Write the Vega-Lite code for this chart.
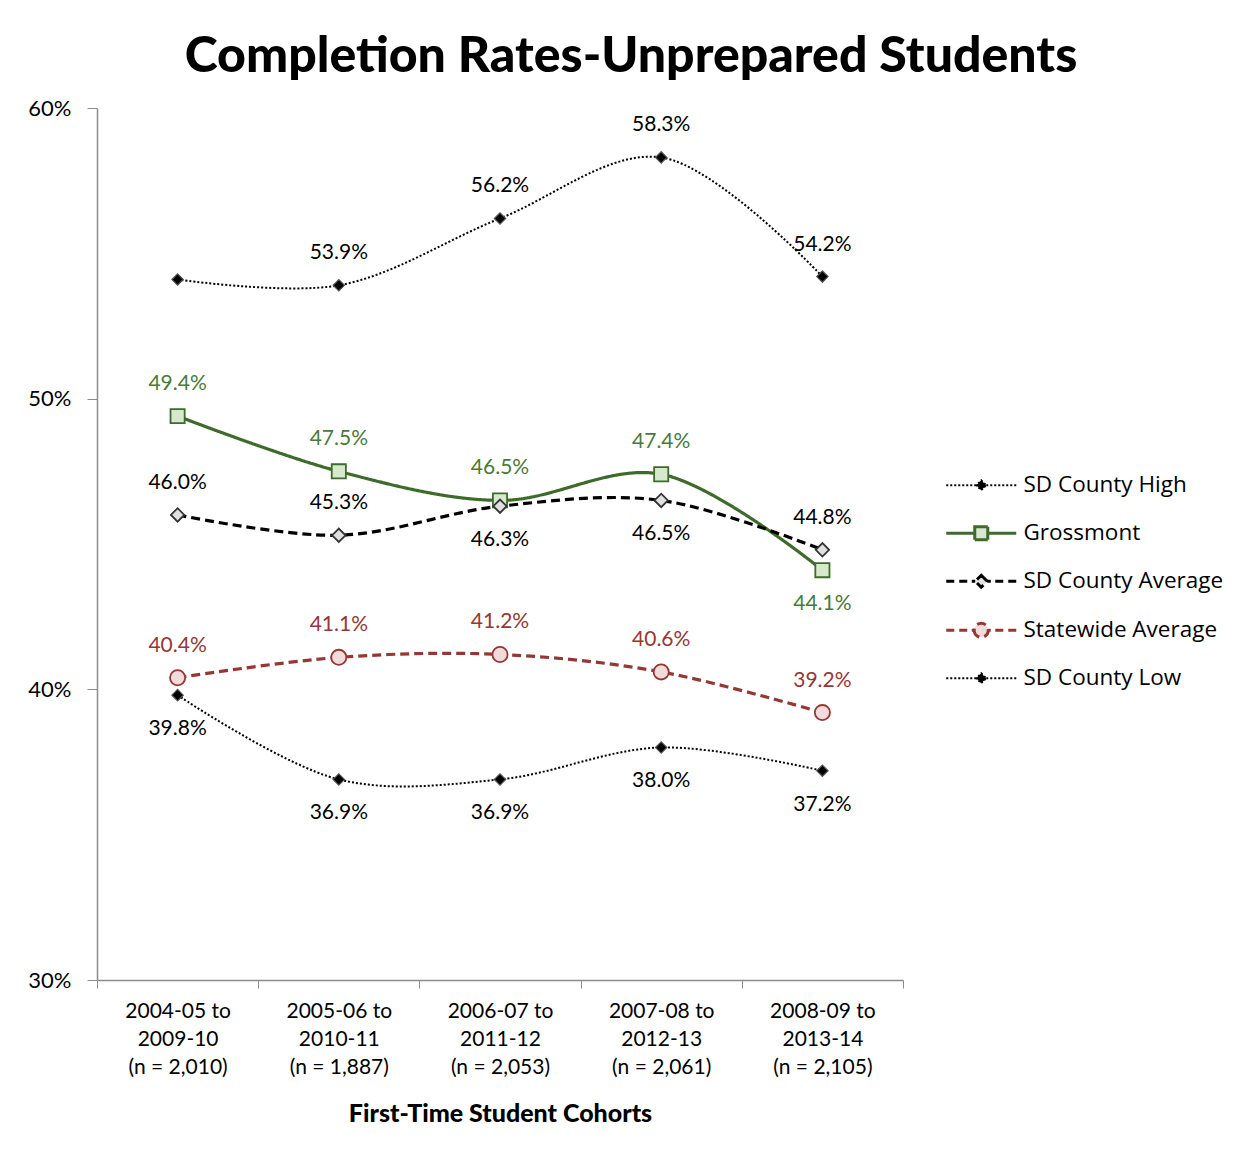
{
  "$schema": "https://vega.github.io/schema/vega-lite/v6.json",
  "autosize": {"type": "none"},
  "padding": {"left": 97, "top": 108, "right": 349, "bottom": 169},
  "width": 806,
  "height": 872,
  "background": "white",
  "config": {
    "font": "Lato",
    "view": {"stroke": null},
    "axis": {"labelFont": "Lato", "titleFont": "Lato", "domainColor": "#8c8c8c", "tickColor": "#8c8c8c", "labelColor": "#000000", "grid": false}
  },
  "title": {
    "text": "Completion Rates-Unprepared Students",
    "font": "Lato",
    "fontSize": 50,
    "fontWeight": 900,
    "color": "#000000",
    "anchor": "middle",
    "frame": "group",
    "baseline": "alphabetic",
    "offset": -25,
    "dx": 131
  },
  "data": {
    "values": [
      {"series": "SD County High", "cohort": "2004-05 to|2009-10|(n = 2,010)", "value": 0.541},
      {"series": "SD County High", "cohort": "2005-06 to|2010-11|(n = 1,887)", "value": 0.539},
      {"series": "SD County High", "cohort": "2006-07 to|2011-12|(n = 2,053)", "value": 0.562},
      {"series": "SD County High", "cohort": "2007-08 to|2012-13|(n = 2,061)", "value": 0.583},
      {"series": "SD County High", "cohort": "2008-09 to|2013-14|(n = 2,105)", "value": 0.542},
      {"series": "Grossmont", "cohort": "2004-05 to|2009-10|(n = 2,010)", "value": 0.494},
      {"series": "Grossmont", "cohort": "2005-06 to|2010-11|(n = 1,887)", "value": 0.475},
      {"series": "Grossmont", "cohort": "2006-07 to|2011-12|(n = 2,053)", "value": 0.465},
      {"series": "Grossmont", "cohort": "2007-08 to|2012-13|(n = 2,061)", "value": 0.474},
      {"series": "Grossmont", "cohort": "2008-09 to|2013-14|(n = 2,105)", "value": 0.441},
      {"series": "SD County Average", "cohort": "2004-05 to|2009-10|(n = 2,010)", "value": 0.460},
      {"series": "SD County Average", "cohort": "2005-06 to|2010-11|(n = 1,887)", "value": 0.453},
      {"series": "SD County Average", "cohort": "2006-07 to|2011-12|(n = 2,053)", "value": 0.463},
      {"series": "SD County Average", "cohort": "2007-08 to|2012-13|(n = 2,061)", "value": 0.465},
      {"series": "SD County Average", "cohort": "2008-09 to|2013-14|(n = 2,105)", "value": 0.448},
      {"series": "Statewide Average", "cohort": "2004-05 to|2009-10|(n = 2,010)", "value": 0.404},
      {"series": "Statewide Average", "cohort": "2005-06 to|2010-11|(n = 1,887)", "value": 0.411},
      {"series": "Statewide Average", "cohort": "2006-07 to|2011-12|(n = 2,053)", "value": 0.412},
      {"series": "Statewide Average", "cohort": "2007-08 to|2012-13|(n = 2,061)", "value": 0.406},
      {"series": "Statewide Average", "cohort": "2008-09 to|2013-14|(n = 2,105)", "value": 0.392},
      {"series": "SD County Low", "cohort": "2004-05 to|2009-10|(n = 2,010)", "value": 0.398},
      {"series": "SD County Low", "cohort": "2005-06 to|2010-11|(n = 1,887)", "value": 0.369},
      {"series": "SD County Low", "cohort": "2006-07 to|2011-12|(n = 2,053)", "value": 0.369},
      {"series": "SD County Low", "cohort": "2007-08 to|2012-13|(n = 2,061)", "value": 0.380},
      {"series": "SD County Low", "cohort": "2008-09 to|2013-14|(n = 2,105)", "value": 0.372}
    ]
  },
  "encoding": {
    "x": {
      "field": "cohort",
      "type": "nominal",
      "sort": null,
      "scale": {"type": "band", "paddingInner": 0, "paddingOuter": 0},
      "axis": {
        "title": "First-Time Student Cohorts",
        "titleFontSize": 25,
        "titleFontWeight": 900,
        "titleColor": "#000000",
        "titlePadding": 24,
        "labelExpr": "split(datum.label, '|')",
        "labelFontSize": 21,
        "labelLineHeight": 28,
        "labelAngle": 0,
        "labelPadding": 12,
        "tickBand": "extent",
        "tickSize": 8,
        "domainWidth": 1.5,
        "labelBaseline": "top"
      }
    },
    "y": {
      "field": "value",
      "type": "quantitative",
      "scale": {"domain": [0.3, 0.6], "nice": false, "zero": false},
      "axis": {
        "title": null,
        "values": [0.3, 0.4, 0.5, 0.6],
        "format": ".0%",
        "labelFontSize": 22,
        "tickSize": 10,
        "labelPadding": 16,
        "domainWidth": 1.5
      }
    }
  },
  "layer": [
    {
      "mark": {"type": "line", "interpolate": "catmull-rom"},
      "encoding": {
        "color": {
          "field": "series",
          "type": "nominal",
          "scale": {
            "domain": ["SD County High", "Grossmont", "SD County Average", "Statewide Average", "SD County Low"],
            "range": ["#000000", "#3E6B2B", "#000000", "#953735", "#000000"]
          },
          "legend": {
            "title": null,
            "orient": "none",
            "legendX": 848,
            "legendY": 366,
            "labelFontSize": 22.5,
            "labelFont": "Open Sans",
            "labelColor": "#000000",
            "labelLimit": 400,
            "symbolSize": 400,
            "symbolOffset": 25,
            "labelOffset": 31,
            "rowPadding": 23,
            "encode": {
              "symbols": {
                "update": {
                  "shape": {"signal": "datum.value === 'Grossmont' ? 'M-3.5,0L-0.65,0M0.65,0L3.5,0M-0.65,-0.65L0.65,-0.65L0.65,0.65L-0.65,0.65Z' : datum.value === 'Statewide Average' ? 'M-3.5,0L-2.7,0M-2.2,0L-1.4,0M-0.95,0L-0.7,0M0.7,0L0.95,0M1.4,0L2.2,0M2.7,0L3.5,0M-0.7,0A0.7,0.7 0 1,0 0.7,0A0.7,0.7 0 1,0 -0.7,0Z' : datum.value === 'SD County Average' ? 'M-3.5,0L-2.7,0M-2.2,0L-1.4,0M-0.95,0L-0.6,0M0.6,0L0.95,0M1.4,0L2.2,0M2.7,0L3.5,0M0,-0.6L0.6,0L0,0.6L-0.6,0Z' : 'M-3.5,0L-3.3,0M-3.1,0L-2.9,0M-2.7,0L-2.5,0M-2.3,0L-2.1,0M-1.9,0L-1.7,0M-1.5,0L-1.3,0M-1.1,0L-0.9,0M-0.7,0L-0.5,0M0.5,0L0.7,0M0.9,0L1.1,0M1.3,0L1.5,0M1.7,0L1.9,0M2.1,0L2.3,0M2.5,0L2.7,0M2.9,0L3.1,0M3.3,0L3.5,0M0,-0.5L0.5,0L0,0.5L-0.5,0Z'"},
                  "fill": {"signal": "datum.value === 'Grossmont' ? '#D7E9CC' : datum.value === 'Statewide Average' ? '#F2DCDB' : datum.value === 'SD County Average' ? '#E0E0E0' : '#000000'"},
                  "strokeWidth": {"signal": "datum.value === 'SD County High' || datum.value === 'SD County Low' ? 1.8 : 3"},
                  "strokeDash": {"value": [1, 0]}
                }
              }
            }
          }
        },
        "strokeDash": {
          "field": "series",
          "type": "nominal",
          "scale": {
            "domain": ["SD County High", "Grossmont", "SD County Average", "Statewide Average", "SD County Low"],
            "range": [[2, 2], [1, 0], [9, 5], [9, 5], [2, 2]]
          },
          "legend": null
        },
        "strokeWidth": {
          "condition": {"test": "datum.series === 'SD County High' || datum.series === 'SD County Low'", "value": 2},
          "value": 3.2
        }
      }
    },
    {
      "transform": [{"filter": "datum.series === 'SD County High' || datum.series === 'SD County Low'"}],
      "mark": {"type": "point", "shape": "diamond", "filled": true, "fill": "#000000", "stroke": "#555555", "strokeWidth": 1.2, "size": 130, "opacity": 1}
    },
    {
      "transform": [{"filter": "datum.series === 'Grossmont'"}],
      "mark": {"type": "point", "shape": "square", "filled": true, "fill": "#D7E9CC", "stroke": "#3E6B2B", "strokeWidth": 1.8, "size": 200, "opacity": 1}
    },
    {
      "transform": [{"filter": "datum.series === 'SD County Average'"}],
      "mark": {"type": "point", "shape": "diamond", "filled": true, "fill": "#E0E0E0", "stroke": "#333333", "strokeWidth": 1.8, "size": 180, "opacity": 1}
    },
    {
      "transform": [{"filter": "datum.series === 'Statewide Average'"}],
      "mark": {"type": "point", "shape": "circle", "filled": true, "fill": "#F2DCDB", "stroke": "#953735", "strokeWidth": 1.8, "size": 230, "opacity": 1}
    },
    {
      "transform": [
        {"filter": "!(datum.series === 'SD County Low' || (datum.series === 'Grossmont' && indexof(datum.cohort, '2008-09') === 0) || (datum.series === 'SD County Average' && (indexof(datum.cohort, '2006-07') === 0 || indexof(datum.cohort, '2007-08') === 0)) || (datum.series === 'SD County High' && indexof(datum.cohort, '2004-05') === 0))"}
      ],
      "mark": {"type": "text", "dy": -32, "fontSize": 21, "font": "Lato", "baseline": "middle"},
      "encoding": {
        "text": {"field": "value", "type": "quantitative", "format": ".1%"},
        "color": {
          "condition": [
            {"test": "datum.series === 'Grossmont'", "value": "#4A7A36"},
            {"test": "datum.series === 'Statewide Average'", "value": "#953735"}
          ],
          "value": "#000000"
        }
      }
    },
    {
      "transform": [
        {"filter": "datum.series === 'SD County Low' || (datum.series === 'Grossmont' && indexof(datum.cohort, '2008-09') === 0) || (datum.series === 'SD County Average' && (indexof(datum.cohort, '2006-07') === 0 || indexof(datum.cohort, '2007-08') === 0))"}
      ],
      "mark": {"type": "text", "dy": 34, "fontSize": 21, "font": "Lato", "baseline": "middle"},
      "encoding": {
        "text": {"field": "value", "type": "quantitative", "format": ".1%"},
        "color": {
          "condition": [
            {"test": "datum.series === 'Grossmont'", "value": "#4A7A36"},
            {"test": "datum.series === 'Statewide Average'", "value": "#953735"}
          ],
          "value": "#000000"
        }
      }
    }
  ]
}
